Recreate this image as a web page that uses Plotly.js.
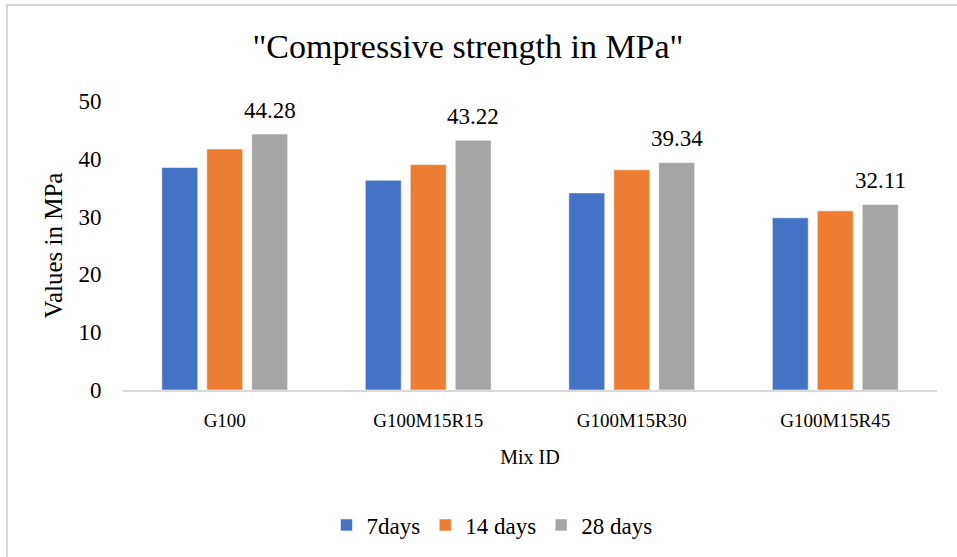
<!DOCTYPE html>
<html>
<head>
<meta charset="utf-8">
<script src="https://cdn.plot.ly/plotly-3.0.1.min.js"></script>
<style>
  html, body { margin: 0; padding: 0; background: #fff; }
  #chart { width: 957px; height: 557px; }
  #frame {
    position: absolute; left: 6px; top: 4px; width: 1000px; height: 600px;
    border-left: 2px solid #d9d9d9; border-top: 2px solid #d9d9d9;
    pointer-events: none;
  }
</style>
</head>
<body>
<div id="chart"></div>
<div id="frame"></div>
<script>
// Mix designs and compressive strength (MPa) at each curing age
const categories = ['G100', 'G100M15R15', 'G100M15R30', 'G100M15R45'];
const days7 = [38.5, 36.3, 34.1, 29.8];
const days14 = [41.7, 39.0, 38.1, 31.0];
const days28 = [44.28, 43.22, 39.34, 32.11];
const seriesNames = ['7days', '14 days', '28 days'];

const serif = 'Liberation Serif';
const bargap = 0.337;
const bargroupgap = 0.2;

const colors = ['#4472C4', '#ED7D31', '#A5A5A5'];
const traces = [days7, days14, days28].map((vals, k) => ({
  type: 'bar',
  name: seriesNames[k],
  x: categories,
  y: vals,
  marker: { color: colors[k], line: { color: '#ffffff', width: 0.6 } },
  hoverinfo: 'x+y+name'
}));

// value labels over the 28-day bars (third bar of each group)
const slot = (1 - bargap) / 3;
const annotations = days28.map((v, i) => ({
  x: i + slot, y: v, xref: 'x', yref: 'y',
  text: v.toFixed(2), showarrow: false,
  yanchor: 'middle', yshift: 24,
  font: { family: serif, size: 23, color: '#000' }
}));

const plotTop = 101, plotBottom = 391;
const layout = {
  width: 957, height: 557,
  margin: { l: 123, r: 20, t: plotTop, b: 557 - plotBottom },
  paper_bgcolor: '#ffffff', plot_bgcolor: '#ffffff',
  font: { family: serif, color: '#000' },
  barmode: 'group', bargap: bargap, bargroupgap: bargroupgap,
  title: {
    text: '"Compressive strength in MPa"',
    font: { family: serif, size: 34, color: '#000' },
    xref: 'container', x: 468 / 957, xanchor: 'center',
    y: 1 - 46 / 557, yanchor: 'middle'
  },
  xaxis: {
    type: 'category',
    showline: true, linecolor: '#d9d9d9', linewidth: 2,
    showgrid: false, zeroline: false,
    ticks: 'outside', ticklen: 12, tickcolor: 'rgba(0,0,0,0)',
    tickfont: { family: serif, size: 19, color: '#000' },
    title: { text: 'Mix ID', font: { family: serif, size: 20, color: '#000' }, standoff: 20 }
  },
  yaxis: {
    range: [0, 50], dtick: 10,
    showline: false, showgrid: false, zeroline: false,
    ticks: 'outside', ticklen: 16, tickcolor: 'rgba(0,0,0,0)',
    tickfont: { family: serif, size: 23, color: '#000' },
    title: { text: 'Values in MPa', font: { family: serif, size: 25, color: '#000' }, standoff: 8 }
  },
  legend: {
    orientation: 'h', x: 0.25, xanchor: 'left',
    y: (plotBottom - 525) / (plotBottom - plotTop), yanchor: 'middle',
    font: { family: serif, size: 23, color: '#000' },
    itemwidth: 30, traceorder: 'normal'
  },
  annotations: annotations,
  showlegend: true
};

Plotly.newPlot('chart', traces, layout, { displayModeBar: false, responsive: false });
</script>
</body>
</html>
